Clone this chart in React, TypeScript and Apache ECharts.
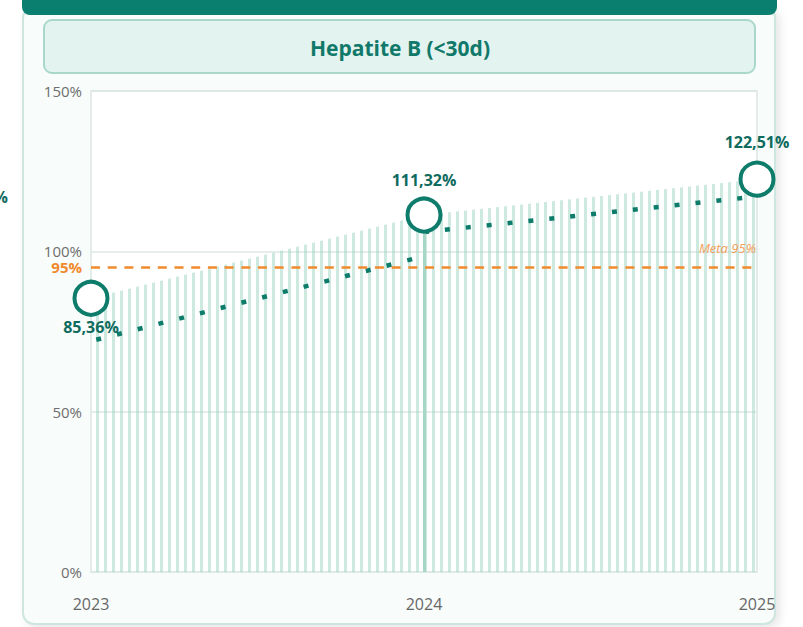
import React, { useEffect, useRef } from "react";
import * as echarts from "echarts";

// ---- data ----
const years = [2023, 2024, 2025];
const coverage = [85.36, 111.32, 122.51];
const coverageLabels = ["85,36%", "111,32%", "122,51%"];
const trendFirst = [72.0, 98.5]; // dotted segment 2023 -> 2024
const trendSecond = [106.0, 117.1]; // dotted segment 2024 -> 2025
const yTicks = [0, 50, 100, 150];
const goal = 95;
const goalLabel = "95%";
const goalText = "Meta 95%";
const title = "Hepatite B (<30d)";

const TEAL = "#0e7c6b";
const LABEL_TEAL = "#0f6b5d";
const ORANGE = "#f08a2c";
const FONT = "'Open Sans', 'Noto Sans', sans-serif";

function stripePattern(): any {
  const c = document.createElement("canvas");
  c.width = 8;
  c.height = 4;
  const ctx = c.getContext("2d")!;
  ctx.fillStyle = "rgba(150,208,190,0.48)";
  ctx.fillRect(0, 0, 3, 4);
  return {
    image: c,
    repeat: "repeat",
    imageWidth: 8,
    imageHeight: 4,
    x: 90,
    scaleX: 0.9625,
  };
}

export default function App() {
  const ref = useRef<HTMLDivElement>(null);

  useEffect(() => {
    if (!ref.current) return;
    const chart = echarts.init(ref.current, undefined, { renderer: "svg" });

    const labelPos = [
      { position: "bottom", distance: 2 },
      { position: "top", distance: 9 },
      { position: "top", distance: 11 },
    ];

    const option: any = {
      animation: false,
      textStyle: { fontFamily: FONT },
      grid: {
        left: 91,
        right: 46,
        top: 91,
        bottom: 55,
        show: true,
        backgroundColor: "#ffffff",
        borderColor: "#e3ece9",
        borderWidth: 2,
      },
      graphic: [
        {
          type: "rect",
          shape: { x: 44, y: 20, width: 711, height: 53, r: 8 },
          style: { fill: "#e3f3ef", stroke: "#a9d8cb", lineWidth: 2 },
          silent: true,
        },
        {
          type: "text",
          x: 400,
          y: 48,
          style: {
            text: title,
            align: "center",
            verticalAlign: "middle",
            fill: "#11796a",
            font: `bold 21px ${FONT}`,
          },
          silent: true,
        },
        {
          type: "text",
          x: 8,
          y: 197,
          style: {
            text: "%",
            align: "right",
            verticalAlign: "middle",
            fill: LABEL_TEAL,
            font: `bold 16px ${FONT}`,
          },
          silent: true,
        },
      ],
      xAxis: {
        type: "value",
        min: years[0],
        max: years[years.length - 1],
        interval: 1,
        axisLine: { show: false },
        axisTick: { show: false },
        splitLine: { show: false },
        axisLabel: {
          color: "#666666",
          fontSize: 16,
          margin: 24,
          formatter: (v: number) => String(v),
        },
      },
      yAxis: {
        type: "value",
        min: yTicks[0],
        max: yTicks[yTicks.length - 1],
        interval: yTicks[1] - yTicks[0],
        axisLine: { show: false },
        axisTick: { show: false },
        splitLine: { lineStyle: { color: "#dce8e4", width: 1.5 } },
        axisLabel: {
          color: "#6e6e6e",
          fontSize: 15,
          margin: 9,
          lineHeight: 14,
          formatter: (v: number) => `${v}%`,
        },
      },
      series: [
        {
          type: "line",
          data: years.map((y, i) => [y, coverage[i]]),
          showSymbol: false,
          symbol: "none",
          lineStyle: { width: 0, opacity: 0 },
          areaStyle: { color: stripePattern(), opacity: 1 },
          z: 2,
          silent: true,
          markLine: {
            silent: true,
            symbol: ["none", "none"],
            animation: false,
            data: [
              [
                {
                  coord: [years[1], coverage[1]],
                  lineStyle: { color: "#a7d6c9", width: 3, type: "solid" },
                  label: { show: false },
                },
                { coord: [years[1], 0] },
              ],
              {
                yAxis: goal,
                lineStyle: { color: ORANGE, width: 2.5, type: [9, 7.7] },
                label: {
                  show: true,
                  position: "start",
                  formatter: goalLabel,
                  color: ORANGE,
                  fontWeight: "bold",
                  fontSize: 15,
                  lineHeight: 14,
                  distance: 9,
                  fontFamily: FONT,
                },
              },
            ],
          },
        },
        {
          type: "line",
          data: [
            [years[0], trendFirst[0]],
            [years[1], trendFirst[1]],
          ],
          showSymbol: false,
          symbol: "none",
          lineStyle: {
            color: TEAL,
            width: 4.5,
            type: [5, 16.4],
            dashOffset: 16,
            cap: "butt",
          },
          z: 3,
          silent: true,
          markLine: {
            silent: true,
            symbol: ["none", "none"],
            animation: false,
            lineStyle: { color: "rgba(0,0,0,0)", width: 0 },
            data: [
              {
                yAxis: goal,
                label: {
                  show: true,
                  position: "insideEndTop",
                  formatter: goalText,
                  color: "#f2a05a",
                  fontStyle: "italic",
                  fontSize: 13,
                  distance: [1, 13],
                  fontFamily: FONT,
                },
              },
            ],
          },
        },
        {
          type: "line",
          data: [
            [years[1], trendSecond[0]],
            [years[2], trendSecond[1]],
          ],
          showSymbol: false,
          symbol: "none",
          lineStyle: {
            color: TEAL,
            width: 4.5,
            type: [5, 16],
            dashOffset: 0,
            cap: "butt",
          },
          z: 3,
          silent: true,
        },
        {
          type: "scatter",
          z: 5,
          symbol: "circle",
          symbolSize: 33,
          itemStyle: { color: "#ffffff", borderColor: TEAL, borderWidth: 4, opacity: 1 },
          data: years.map((y, i) => ({
            value: [y, coverage[i]],
            label: {
              show: true,
              position: labelPos[i].position,
              distance: labelPos[i].distance,
              formatter: coverageLabels[i],
              color: LABEL_TEAL,
              fontWeight: "bold",
              fontSize: 16,
              fontFamily: FONT,
            },
          })),
        },
      ],
    };

    chart.setOption(option);
    return () => {
      chart.dispose();
    };
  }, []);

  return (
    <div
      style={{
        position: "absolute",
        left: 0,
        top: 0,
        width: 803,
        height: 627,
        background: "#ffffff",
        overflow: "hidden",
      }}
    >
      <div
        style={{
          position: "absolute",
          left: 22,
          top: 6,
          width: 750,
          height: 615,
          border: "2px solid #cde6df",
          borderRadius: 12,
          background: "#f8fcfb",
          boxShadow: "4px 3px 10px rgba(0,0,0,0.10)",
        }}
      />
      <div
        style={{
          position: "absolute",
          left: 22,
          top: -10,
          width: 755,
          height: 25,
          borderRadius: 8,
          background: "#0a7f70",
        }}
      />
      <div
        ref={ref}
        style={{ position: "absolute", left: 0, top: 0, width: 803, height: 627 }}
      />
    </div>
  );
}
